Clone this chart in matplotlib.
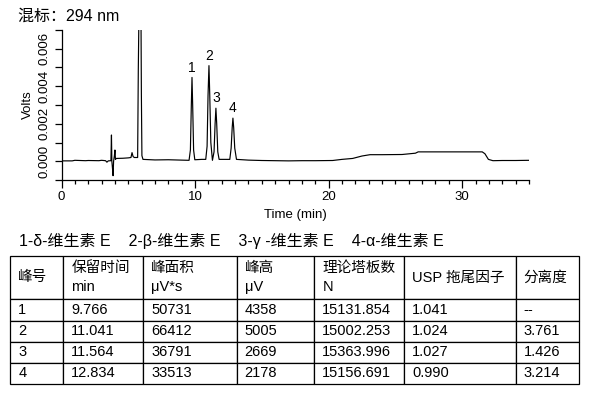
import numpy as np
import matplotlib.pyplot as plt
from matplotlib.ticker import MultipleLocator, FormatStrFormatter

plt.rcParams['font.family'] = ['Liberation Sans', 'Noto Sans CJK SC']
plt.rcParams['axes.unicode_minus'] = False

# chromatogram trace (min, V)
time = [0.0, 0.8, 1.0, 1.8, 2.0, 2.8, 3.0, 3.3, 3.4, 3.5, 3.70, 3.74, 3.77, 3.82,
        3.86, 3.90, 3.96, 4.00, 4.04, 4.10, 4.6, 5.0, 5.20, 5.28, 5.36, 5.45,
        5.70, 5.75, 5.80, 5.88, 5.95, 5.98, 6.02, 6.10, 7.0, 8.0, 9.0,
        9.55, 9.65, 9.72, 9.77, 9.82, 9.89, 9.98, 10.5,
        10.80, 10.90, 10.97, 11.04, 11.10, 11.18, 11.30, 11.42, 11.50, 11.56,
        11.62, 11.70, 11.80, 12.3,
        12.60, 12.70, 12.78, 12.834, 12.89, 12.97, 13.10,
        14.0, 15.0, 16.0, 17.0, 18.0, 19.0, 20.3, 21.0, 21.8, 22.5, 23.1,
        24.0, 25.5, 26.5, 26.7, 28.0, 29.0, 30.0, 31.0, 31.5, 31.7, 31.96,
        32.3, 33.0, 34.0, 35.0]
volts = [0.00002, 0.00002, 0.00005, 0.00003, 0.00004, 0.00003, 0.00005, 0.00003,
         -0.00005, 0.00002, 0.00003, 0.0014, 0.0, -0.0004,
         -0.00077, 0.0, 0.0003, 0.0006, 0.0001, 0.00015, 0.00016, 0.00018,
         0.0002, 0.00046, 0.00025, 0.0002,
         0.0002, 0.0049, 0.0080, 0.0095, 0.0080, 0.0036, 0.0003, 0.0001,
         0.00007, 0.00008, 0.00006,
         0.00005, 0.0006, 0.0030, 0.00447, 0.0030, 0.0006, 0.00008, 0.0001,
         0.0001, 0.0008, 0.0035, 0.0051, 0.0035, 0.0010, 0.00005, 0.0005,
         0.0020, 0.00283, 0.0020, 0.0005, 0.0001, 0.0001,
         0.0001, 0.0007, 0.0018, 0.0023, 0.0018, 0.0007, 0.0001,
         0.00006, 0.00004, 0.00003, 0.00002, 0.00003, 0.00003, 0.00004, 0.0001,
         0.00015, 0.00028, 0.00035, 0.00035, 0.00036, 0.00043, 0.0005, 0.0005,
         0.0005, 0.0005, 0.0005, 0.0005, 0.0004, 0.0001, 0.00003, 0.00004,
         0.00004, 0.00005]

peak_ids = ['1', '2', '3', '4']
peak_rt = [9.766, 11.041, 11.564, 12.834]
peak_top = [0.00447, 0.0051, 0.00283, 0.0023]

title_text = '混标：294 nm'
legend_text = '1-δ-维生素 E    2-β-维生素 E    3-γ -维生素 E    4-α-维生素 E'

col_head = ['峰号', '保留时间\nmin', '峰面积\nμV*s', '峰高\nμV',
            '理论塔板数\nN', 'USP 拖尾因子', '分离度']
peak_no = ['1', '2', '3', '4']
rt = ['9.766', '11.041', '11.564', '12.834']
area = ['50731', '66412', '36791', '33513']
height = ['4358', '5005', '2669', '2178']
plates = ['15131.854', '15002.253', '15363.996', '15156.691']
tailing = ['1.041', '1.024', '1.027', '0.990']
resol = ['--', '3.761', '1.426', '3.214']

W, H = 591, 397
fig = plt.figure(figsize=(W / 100, H / 100), dpi=100)

# chromatogram
ax = fig.add_axes([61.5 / W, 1 - 180 / H, 467.5 / W, 150 / H])
ax.plot(time, volts, color='black', linewidth=0.85)
ax.set_xlim(0, 35)
ax.set_ylim(-0.001, 0.007)
for s in ['top', 'right']:
    ax.spines[s].set_visible(False)
for s in ['left', 'bottom']:
    ax.spines[s].set_linewidth(0.9)

ax.xaxis.set_major_locator(MultipleLocator(10))
ax.xaxis.set_minor_locator(MultipleLocator(1))
ax.yaxis.set_major_locator(MultipleLocator(0.002))
ax.yaxis.set_minor_locator(MultipleLocator(0.001))
ax.yaxis.set_major_formatter(FormatStrFormatter('%.3f'))
ax.tick_params(axis='x', which='major', length=6, width=0.9, labelsize=9.5, pad=2)
ax.tick_params(axis='x', which='minor', length=3, width=0.9)
ax.tick_params(axis='y', which='both', length=5, width=0.9)
ax.tick_params(axis='y', labelsize=9.5, labelrotation=90, pad=3)
for lab in ax.get_yticklabels():
    lab.set_va('center')

ax.set_xlabel('Time (min)', fontsize=9.5, labelpad=4)
ax.set_ylabel('Volts', fontsize=9.5, labelpad=3)

for pid, x, y in zip(peak_ids, peak_rt, peak_top):
    ax.annotate(pid, (x, y), xytext=(0, 2), textcoords='offset points',
                ha='center', va='bottom', fontsize=10)

fig.text(18 / W, 1 - 16 / H, title_text, fontsize=11.5, va='center', ha='left')
fig.text(19 / W, 1 - 241 / H, legend_text, fontsize=11.5, va='center', ha='left')

# results table
tax = fig.add_axes([10.3 / W, 1 - 384 / H, 568.4 / W, 128.3 / H])
tax.axis('off')
rows = [list(r) for r in zip(peak_no, rt, area, height, plates, tailing, resol)]
col_px = [53, 80, 93.4, 77.6, 90, 111.4, 63]
row_px = [43.3, 21.7, 21, 21, 21.3]
tab = tax.table(cellText=rows, colLabels=col_head, cellLoc='left', colLoc='left',
                colWidths=[w / sum(col_px) for w in col_px], bbox=[0, 0, 1, 1])
tab.auto_set_font_size(False)
tab.set_fontsize(10.5)
for (r, c), cell in tab.get_celld().items():
    cell.set_height(row_px[r])
    cell.set_linewidth(0.9)
    cell.set_edgecolor('black')
    cell.PAD = 8 / col_px[c]
    cell.get_text().set_linespacing(1.5)

fig.savefig('out.png', dpi=100)
